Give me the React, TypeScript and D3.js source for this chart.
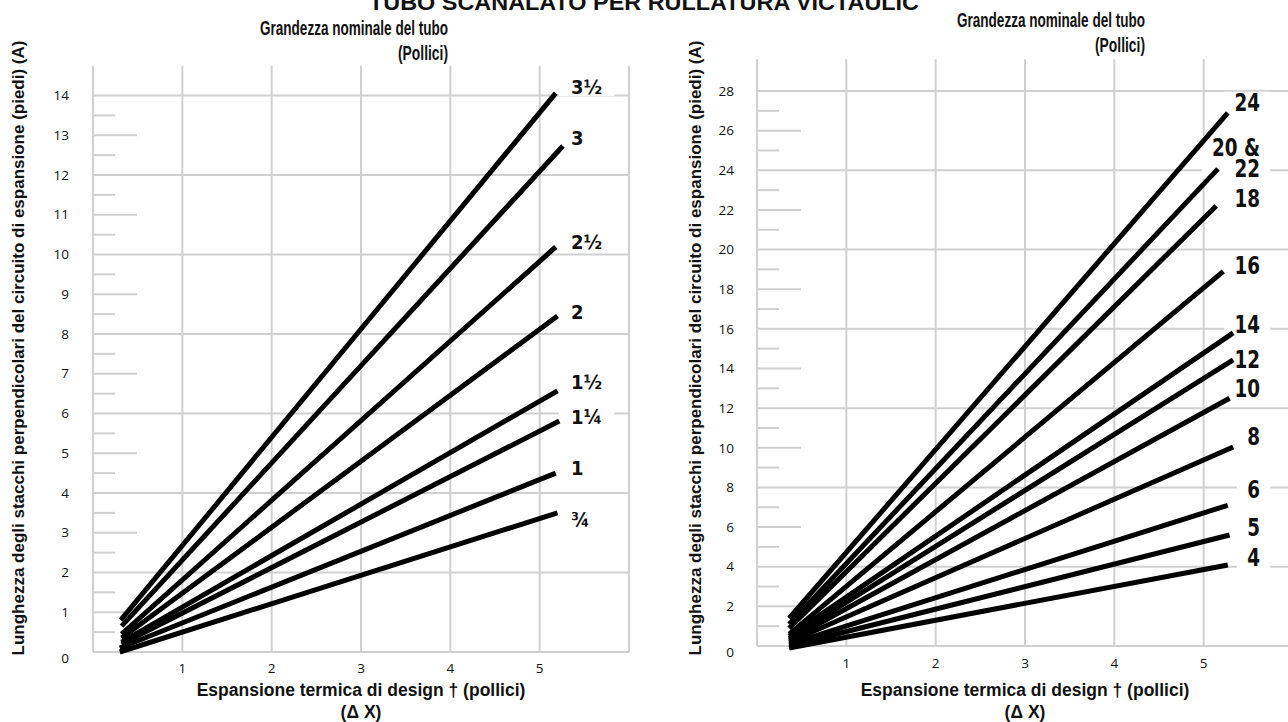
import React, { useEffect, useRef } from "react";
import * as d3 from "d3";

// ---------- data ----------
const chartTitle = "TUBO SCANALATO PER RULLATURA VICTAULIC";
const legendTitle1 = "Grandezza nominale del tubo";
const legendTitle2 = "(Pollici)";
const xTitle1 = "Espansione termica di design † (pollici)";
const xTitle2 = "(Δ X)";
const yTitle = "Lunghezza degli stacchi perpendicolari del circuito di espansione (piedi) (A)";
const xTicks = [1, 2, 3, 4, 5];

// left panel
const leftSizes = ["3½", "3", "2½", "2", "1½", "1¼", "1", "¾"];
const leftStartX = [0.31, 0.32, 0.32, 0.32, 0.32, 0.32, 0.3, 0.3];
const leftStartY = [0.8, 0.65, 0.45, 0.35, 0.25, 0.2, 0.1, 0.0];
const leftEndX = [5.18, 5.26, 5.18, 5.2, 5.2, 5.22, 5.18, 5.2];
const leftEndY = [14.06, 12.73, 10.19, 8.45, 6.57, 5.81, 4.5, 3.5];
const leftLabelY = [14.21, 12.93, 10.31, 8.55, 6.79, 5.91, 4.63, 3.32];
const leftYTicks = d3.range(0, 15, 1);

// right panel
const rightSizes = ["24", "20 &\n22", "18", "16", "14", "12", "10", "8", "6", "5", "4"];
const rightStartX = [0.36, 0.36, 0.36, 0.36, 0.36, 0.36, 0.36, 0.36, 0.36, 0.36, 0.36];
const rightStartY = [1.4, 1.1, 0.9, 0.6, 0.5, 0.4, 0.3, 0.2, 0.1, 0.0, -0.1];
const rightEndX = [5.27, 5.16, 5.14, 5.22, 5.33, 5.33, 5.29, 5.33, 5.27, 5.29, 5.27];
const rightEndY = [26.9, 24.07, 22.2, 18.9, 15.8, 14.43, 12.5, 10.04, 7.1, 5.6, 4.09];
const rightLabelY = [27.4, 24.1, 22.55, 19.17, 16.2, 14.43, 12.97, 10.55, 7.87, 5.95, 4.44];
const rightYTicks = d3.range(0, 29, 2);

const GRID = "#d0d0d0";
const TICKFONT = "'Open Sans', 'Noto Sans', sans-serif";
const BOLDFONT = "'Liberation Sans', Arial, sans-serif";
const NARROW = "'DejaVu Sans Condensed', 'Liberation Sans', sans-serif";

type Panel = {
  x0: number; x1: number; y0: number; yUnitTop: number; yTopVal: number; yAxisTop: number;
  tickStep: number; fullEvery: number; medEvery: number;
  yTicks: number[]; tickLabelX: number; xLabelDy: number;
  sizes: string[]; sx: number[]; sy: number[]; ex: number[]; ey: number[]; ly: number[];
  labelX: number; labelAnchor: string; labelSize: number; labelScale: number; labelLH: number;
  yTitleX: number; legendX: number; legendY: number;
};

function drawPanel(svg: d3.Selection<SVGSVGElement, unknown, null, undefined>, p: Panel) {
  const g = svg.append("g");
  const x = d3.scaleLinear().domain([0, 6]).range([p.x0, p.x1]);
  const y = d3.scaleLinear().domain([0, p.yTopVal]).range([p.y0, p.yUnitTop]);

  // vertical grid
  const vals = d3.range(0, 7, 1);
  g.selectAll("line.vg").data(vals).enter().append("line")
    .attr("x1", (d) => x(d)).attr("x2", (d) => x(d))
    .attr("y1", y(p.yAxisTop)).attr("y2", y(0))
    .attr("stroke", GRID).attr("stroke-width", 2);

  // horizontal grid / ticks
  const hv = d3.range(0, p.yTopVal + 0.01, p.tickStep);
  g.selectAll("line.hg").data(hv).enter().append("line")
    .attr("x1", x(0))
    .attr("x2", (d) => {
      const k = Math.round(d / p.tickStep);
      if (k % p.fullEvery === 0) return x(6);
      if (k % p.medEvery === 0) return x(0) + 44;
      return x(0) + 22;
    })
    .attr("y1", (d) => y(d)).attr("y2", (d) => y(d))
    .attr("stroke", GRID).attr("stroke-width", 2);

  // y tick labels
  g.selectAll("text.yt").data(p.yTicks).enter().append("text")
    .attr("x", p.tickLabelX).attr("y", (d) => y(d) + (d === 0 ? 6 : 0))
    .attr("dy", "0.35em").attr("text-anchor", "end")
    .attr("font-family", TICKFONT).attr("font-size", 13.5).attr("fill", "#111")
    .text((d) => String(d));

  // x tick labels
  g.selectAll("text.xt").data(xTicks).enter().append("text")
    .attr("x", (d) => x(d)).attr("y", y(0) + p.xLabelDy)
    .attr("dy", "0.35em").attr("text-anchor", "middle")
    .attr("font-family", TICKFONT).attr("font-size", 13.5).attr("fill", "#111")
    .text((d) => String(d));

  // x title
  g.append("text").attr("x", x(3)).attr("y", 690).attr("dy", "0.35em")
    .attr("text-anchor", "middle").attr("font-family", BOLDFONT).attr("font-weight", "bold")
    .attr("font-size", 17.5).attr("fill", "#111").text(xTitle1);
  g.append("text").attr("x", x(3)).attr("y", 712).attr("dy", "0.35em")
    .attr("text-anchor", "middle").attr("font-family", BOLDFONT).attr("font-weight", "bold")
    .attr("font-size", 17.5).attr("fill", "#111").text(xTitle2);

  // y title
  g.append("text")
    .attr("transform", `translate(${p.yTitleX},${348}) rotate(-90)`)
    .attr("dy", "0.35em").attr("text-anchor", "middle")
    .attr("font-family", BOLDFONT).attr("font-weight", "bold").attr("font-size", 17)
    .attr("fill", "#111").text(yTitle);

  // legend title
  g.append("text").attr("x", p.legendX).attr("y", p.legendY).attr("dy", "0.35em")
    .attr("text-anchor", "end").attr("font-family", BOLDFONT).attr("font-weight", "bold")
    .attr("font-size", 20).attr("textLength", 188).attr("lengthAdjust", "spacingAndGlyphs")
    .attr("fill", "#111").text(legendTitle1);
  g.append("text").attr("x", p.legendX).attr("y", p.legendY + 25).attr("dy", "0.35em")
    .attr("text-anchor", "end").attr("font-family", BOLDFONT).attr("font-weight", "bold")
    .attr("font-size", 20).attr("textLength", 50).attr("lengthAdjust", "spacingAndGlyphs")
    .attr("fill", "#111").text(legendTitle2);

  // labels (with white halos behind)
  const boxLayer = g.append("g");
  const lineLayer = g.append("g");
  const labelLayer = g.append("g");
  p.sizes.forEach((s, i) => {
    const lines = s.split("\n");
    const yy = y(p.ly[i]) - (lines.length - 1) * p.labelLH;
    const tr = `translate(${p.labelX},${yy}) scale(${p.labelScale},1)`;
    const t = labelLayer.append("text").attr("transform", tr)
      .attr("font-family", NARROW).attr("font-weight", "bold")
      .attr("font-size", p.labelSize).attr("fill", "#111")
      .attr("text-anchor", p.labelAnchor);
    lines.forEach((ln, j) => {
      t.append("tspan").attr("x", 0).attr("y", j * p.labelLH).attr("dy", "0.35em").text(ln);
    });
    const bb = (t.node() as SVGTextElement).getBBox();
    boxLayer.append("rect").attr("transform", tr)
      .attr("x", bb.x - 12).attr("y", bb.y + 3).attr("width", bb.width + 24).attr("height", bb.height - 6)
      .attr("fill", "white");
  });

  const line = d3.line<[number, number]>().x((d) => x(d[0])).y((d) => y(d[1]));
  p.sizes.forEach((_, i) => {
    lineLayer.append("path")
      .attr("d", line([[p.sx[i], p.sy[i]], [p.ex[i], p.ey[i]]]))
      .attr("stroke", "#000").attr("stroke-width", 5).attr("fill", "none")
      .attr("stroke-linecap", "butt");
  });
}

export default function App() {
  const ref = useRef<SVGSVGElement>(null);
  useEffect(() => {
    const svg = d3.select(ref.current!);
    svg.selectAll("*").remove();

    svg.append("text").attr("x", 644).attr("y", 10)
      .attr("text-anchor", "middle").attr("font-family", BOLDFONT).attr("font-weight", "bold")
      .attr("font-size", 22).attr("textLength", 550).attr("lengthAdjust", "spacingAndGlyphs")
      .attr("fill", "#111").text(chartTitle);

    drawPanel(svg, {
      x0: 93, x1: 629, y0: 652, yUnitTop: 95.5, yTopVal: 14, yAxisTop: 14.75,
      tickStep: 0.5, fullEvery: 4, medEvery: 2, yTicks: leftYTicks, tickLabelX: 69, xLabelDy: 16,
      sizes: leftSizes, sx: leftStartX, sy: leftStartY, ex: leftEndX, ey: leftEndY, ly: leftLabelY,
      labelX: 571, labelAnchor: "start", labelSize: 20, labelScale: 1, labelLH: 20,
      yTitleX: 18, legendX: 448, legendY: 28,
    });
    drawPanel(svg, {
      x0: 757, x1: 1293, y0: 646, yUnitTop: 91, yTopVal: 28, yAxisTop: 29.6,
      tickStep: 1, fullEvery: 4, medEvery: 2, yTicks: rightYTicks, tickLabelX: 734, xLabelDy: 17,
      sizes: rightSizes, sx: rightStartX, sy: rightStartY, ex: rightEndX, ey: rightEndY, ly: rightLabelY,
      labelX: 1260, labelAnchor: "end", labelSize: 24, labelScale: 0.85, labelLH: 21,
      yTitleX: 695, legendX: 1145, legendY: 20,
    });
  }, []);
  return (
    <svg ref={ref} width={1288} height={722}
      style={{ position: "absolute", left: 0, top: 0, background: "#fff" }} />
  );
}
